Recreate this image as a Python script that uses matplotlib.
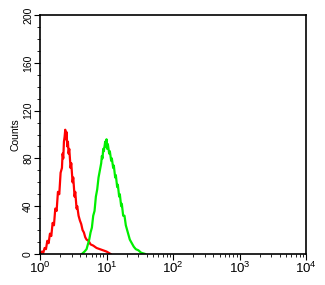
import numpy as np
import matplotlib
matplotlib.use("Agg")
import matplotlib.pyplot as plt
from matplotlib.ticker import LogLocator, MultipleLocator, NullFormatter

plt.rcParams['font.family'] = ['Liberation Sans', 'DejaVu Sans']

# red histogram (log10 of intensity, counts)
red_log = [0.00, 0.03, 0.05, 0.07, 0.09, 0.11, 0.13, 0.15, 0.17, 0.19, 0.21, 0.23, 0.25,
           0.27, 0.29, 0.31, 0.33, 0.34, 0.35, 0.36, 0.37, 0.38, 0.39, 0.40, 0.41, 0.42,
           0.43, 0.44, 0.46, 0.47, 0.49, 0.50, 0.52, 0.53, 0.55, 0.56, 0.58, 0.60, 0.62,
           0.64, 0.66, 0.68, 0.70, 0.73, 0.76, 0.80, 0.85, 0.90, 0.95, 1.00, 1.06]
red_cnt = [0, 2, 1, 5, 4, 11, 9, 17, 15, 26, 24, 38, 36,
           52, 50, 68, 72, 84, 80, 94, 98, 104, 96, 102, 90, 94,
           84, 88, 72, 76, 60, 64, 48, 52, 38, 40, 32, 28, 25,
           20, 18, 14, 12, 11, 8, 7, 5, 4, 3, 2, 0]

# green histogram
green_log = [0.63, 0.67, 0.70, 0.72, 0.74, 0.76, 0.78, 0.80, 0.82, 0.84, 0.86, 0.88, 0.90,
             0.92, 0.93, 0.94, 0.95, 0.96, 0.98, 0.99, 1.00, 1.01, 1.02, 1.04, 1.05, 1.07,
             1.08, 1.10, 1.11, 1.13, 1.14, 1.16, 1.17, 1.19, 1.20, 1.22, 1.23, 1.25, 1.27,
             1.29, 1.31, 1.33, 1.35, 1.38, 1.41, 1.44, 1.48, 1.52, 1.58]
green_cnt = [0, 2, 4, 8, 12, 18, 22, 32, 36, 48, 54, 64, 70,
             76, 82, 80, 88, 86, 94, 90, 96, 88, 92, 84, 86, 78,
             80, 72, 74, 64, 66, 56, 58, 48, 50, 40, 42, 32, 32,
             24, 20, 16, 12, 9, 6, 4, 3, 1, 0]

yticks = [0, 40, 80, 120, 160, 200]

fig = plt.figure(figsize=(3.25, 2.85), dpi=100)
ax = fig.add_axes([0.123, 0.109, 0.819, 0.838])
ax.plot(10 ** np.array(red_log), red_cnt, color='#ff0000', lw=1.6)
ax.plot(10 ** np.array(green_log), green_cnt, color='#00ee00', lw=1.6)

ax.set_xscale('log')
ax.set_xlim(1, 1e4)
ax.set_ylim(0, 200)
ax.set_yticks(yticks)
ax.set_yticklabels([str(v) for v in yticks], rotation=90, va='center', fontsize=7.5)
ax.yaxis.set_minor_locator(MultipleLocator(10))
ax.xaxis.set_major_locator(LogLocator(base=10, numticks=10))
ax.xaxis.set_minor_locator(LogLocator(base=10, subs=np.arange(2, 10), numticks=20))
ax.xaxis.set_minor_formatter(NullFormatter())
ax.tick_params(axis='x', labelsize=9.5, length=4, width=0.8, pad=1)
ax.tick_params(axis='y', length=4, width=0.8, pad=1)
ax.tick_params(which='minor', length=2, width=0.6)
ax.set_ylabel('Counts', fontsize=7.5, labelpad=2)
for s in ax.spines.values():
    s.set_linewidth(1.2)

fig.savefig('out.png', dpi=100)
